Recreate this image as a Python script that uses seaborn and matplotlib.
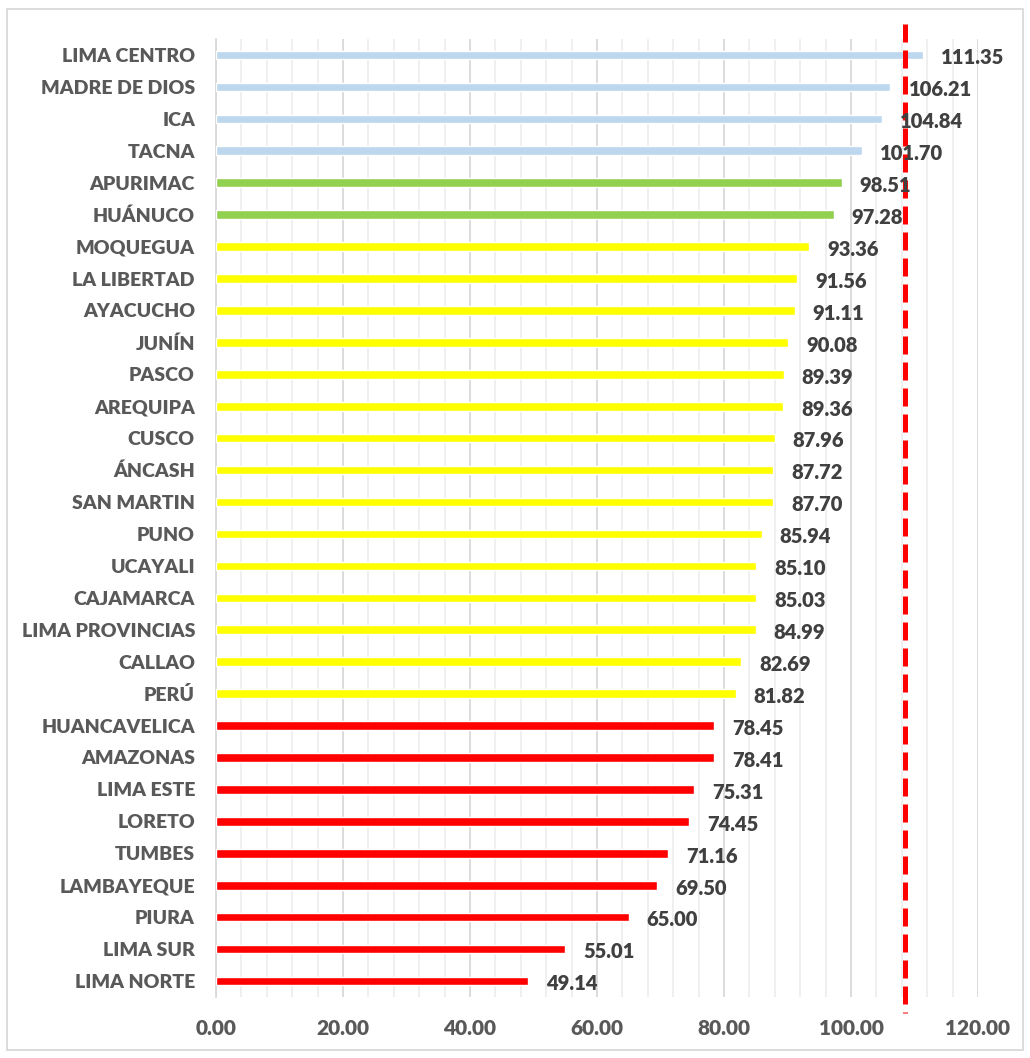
import matplotlib
matplotlib.use("Agg")
import matplotlib.pyplot as plt
import matplotlib.transforms as mtransforms
from matplotlib.patches import Rectangle
from matplotlib.ticker import MultipleLocator, FixedLocator
import seaborn as sns
import pandas as pd
import numpy as np

regions = ["LIMA CENTRO", "MADRE DE DIOS", "ICA", "TACNA", "APURIMAC", "HUÁNUCO",
           "MOQUEGUA", "LA LIBERTAD", "AYACUCHO", "JUNÍN", "PASCO", "AREQUIPA",
           "CUSCO", "ÁNCASH", "SAN MARTIN", "PUNO", "UCAYALI", "CAJAMARCA",
           "LIMA PROVINCIAS", "CALLAO", "PERÚ", "HUANCAVELICA", "AMAZONAS",
           "LIMA ESTE", "LORETO", "TUMBES", "LAMBAYEQUE", "PIURA", "LIMA SUR",
           "LIMA NORTE"]
values = [111.35, 106.21, 104.84, 101.70, 98.51, 97.28,
          93.36, 91.56, 91.11, 90.08, 89.39, 89.36,
          87.96, 87.72, 87.70, 85.94, 85.10, 85.03,
          84.99, 82.69, 81.82, 78.45, 78.41,
          75.31, 74.45, 71.16, 69.50, 65.00, 55.01,
          49.14]
groups = ["blue"] * 4 + ["green"] * 2 + ["yellow"] * 15 + ["red"] * 9
group_colors = {"blue": "#BDD7EE", "green": "#92D050", "yellow": "#FFFF00", "red": "#FF0000"}
target = 108.5
xticks = [0, 20, 40, 60, 80, 100, 120]

df = pd.DataFrame({"region": regions, "value": values, "group": groups})

sns.set_theme(style="white")
plt.rcParams["font.family"] = ["Lato", "DejaVu Sans"]
W = "heavy"

fig = plt.figure(figsize=(10.30, 10.58), dpi=100)
ax = fig.add_axes([216/1030, 1 - 997/1058, (978 - 216)/1030, (997 - 39)/1058])

sns.barplot(data=df, y="region", x="value", hue="group", palette=group_colors,
            dodge=False, width=0.27, orient="h", legend=False, saturation=1,
            ax=ax, zorder=3)

ax.set_xlim(0, 120)
ax.set_ylim(len(regions) - 0.5, -0.5)
ax.xaxis.set_major_locator(FixedLocator(xticks))
ax.xaxis.set_minor_locator(MultipleLocator(4))
ax.set_xticklabels([f"{v:.2f}" for v in xticks])
ax.grid(which="major", axis="x", color="#D9D9D9", linewidth=1.3, zorder=0)
ax.grid(which="minor", axis="x", color="#EEEEEE", linewidth=1.3, zorder=0)
ax.grid(axis="y", visible=False)
ax.set_axisbelow(True)

for s in ["top", "right", "bottom"]:
    ax.spines[s].set_visible(False)
ax.spines["left"].set_color("#D9D9D9")
ax.spines["left"].set_linewidth(1.3)

ax.yaxis.set_minor_locator(FixedLocator(np.arange(-0.5, len(regions), 1.0)))
ax.tick_params(axis="y", which="major", length=0, pad=21 * 0.72, labelsize=14,
               labelcolor="#595959")
ax.tick_params(axis="y", which="minor", length=8 * 0.72, width=1.3, color="#D9D9D9",
               direction="out")
ax.tick_params(axis="x", which="both", length=0, pad=16, labelsize=15,
               labelcolor="#595959")
for lbl in ax.get_yticklabels() + ax.get_xticklabels():
    lbl.set_fontweight(W)
ax.set_xlabel("")
ax.set_ylabel("")

for i, v in enumerate(values):
    ax.annotate(f"{v:.2f}", xy=(v, i), xytext=(13, -2), textcoords="offset points",
                ha="left", va="center", fontsize=14.5, fontweight=W,
                color="#404040", zorder=5)

trans = mtransforms.blended_transform_factory(ax.transData, ax.transAxes)
ax.plot([target, target], [1.016, -0.017], transform=trans, color="#FF0000",
        linewidth=3.6, linestyle=(0, (3.6, 1.6)), clip_on=False, zorder=4)

fig.patches.append(Rectangle((7/1030, 1 - 1050/1058), (1023 - 7)/1030, (1050 - 9)/1058,
                             transform=fig.transFigure, fill=False,
                             edgecolor="#D9D9D9", linewidth=1.3))

fig.savefig("out.png", dpi=100, facecolor="white")
